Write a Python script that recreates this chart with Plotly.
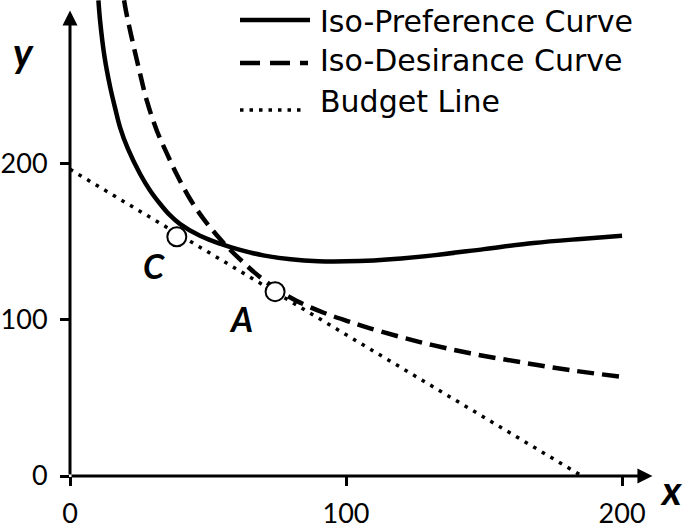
import plotly.graph_objects as go

# values
pref_x = [10.3, 10.9, 12.5, 14.5, 16.5, 18.1, 21, 25.4, 29, 32.6, 36, 39.9, 47.1, 54.3, 61.6,
          70, 80, 90, 100, 110, 120, 131.5, 150, 168, 185, 200]
pref_y = [304, 291, 268, 249, 234, 223, 209, 193, 182.5, 174, 167, 161, 153.5, 148.5, 144.5,
          141, 138.5, 137.3, 137.2, 137.8, 139, 141, 145, 148.9, 151.5, 153.5]

desire_x = [19.6, 20.3, 22.3, 25.4, 27.8, 31.4, 35, 38.6, 43.5, 48.3, 53.1, 57.5, 62.5, 67, 74.3,
            82, 91.7, 100.2, 108.7, 126.8, 145, 163, 181, 199.3]
desire_y = [304, 297, 280.5, 257, 240, 221, 206.5, 193, 177, 164.5, 154, 145.5, 137, 129.8, 120,
            112, 104.5, 99.2, 94.4, 85.6, 78.4, 72.8, 67.7, 63.5]

budget_x = [0, 185.5]
budget_y = [196, 0]

point_names = ["C", "A"]
point_x = [38.7, 74.3]
point_y = [152.9, 117.8]

tick_vals = [0, 100, 200]
tick_text = ["0", "100", "200"]

legend_names = ["Iso-Preference Curve", "Iso-Desirance Curve", "Budget Line"]

W, H = 685, 530
ML, MB = 70, 54
XMAX, YMAX = 222.8, 304.2


def px(x, y):
    # pixel position -> paper coordinates
    return (x - ML) / (W - ML), (H - MB - y) / (H - MB)


fig = go.Figure()

fig.add_trace(go.Scatter(x=budget_x, y=budget_y, mode="lines",
                         line=dict(color="black", width=3.5, dash="3.5px,6.5px")))
fig.add_trace(go.Scatter(x=desire_x, y=desire_y, mode="lines",
                         line=dict(color="black", width=4.5, dash="17px,8px", shape="spline")))
fig.add_trace(go.Scatter(x=pref_x, y=pref_y, mode="lines",
                         line=dict(color="black", width=4.5, shape="spline")))
fig.add_trace(go.Scatter(x=point_x, y=point_y, mode="markers",
                         marker=dict(size=19, color="white", line=dict(color="black", width=2))))

# axes with arrow heads
fig.add_annotation(x=0, y=297.5, ax=0, ay=0, xref="x", yref="y", axref="x", ayref="y",
                   showarrow=True, arrowhead=2, arrowsize=1, arrowwidth=3, arrowcolor="black", text="")
fig.add_annotation(x=211, y=0, ax=0, ay=0, xref="x", yref="y", axref="x", ayref="y",
                   showarrow=True, arrowhead=2, arrowsize=1, arrowwidth=3, arrowcolor="black", text="")

lab_font = dict(family="Lato", size=40, color="black", weight="bold", style="italic")
for name, lx, ly in [("y", 23, 52), ("x", 671, 490)]:
    p = px(lx, ly)
    fig.add_annotation(x=p[0], y=p[1], xref="paper", yref="paper", text=name,
                       xanchor="center", yanchor="middle", showarrow=False, font=lab_font)

pt_font = dict(family="Lato", size=34, color="black", weight="bold", style="italic")
for name, lx, ly in zip(point_names, [154, 241], [265, 318]):
    p = px(lx, ly)
    fig.add_annotation(x=p[0], y=p[1], xref="paper", yref="paper", text=name,
                       xanchor="center", yanchor="middle", showarrow=False, font=pt_font)

# hand drawn legend
leg_font = dict(family="DejaVu Sans", size=30, color="black")
rows = [(22, 20, 310, "solid", 4.5), (60, 63, 308, "20px,10px", 4.5), (101, 110, 305, "3.5px,6px", 3.5)]
for name, (ty, ly, x1, dash, lw) in zip(legend_names, rows):
    p0 = px(240, ly)
    p1 = px(x1, ly)
    fig.add_shape(type="line", xref="paper", yref="paper", x0=p0[0], y0=p0[1], x1=p1[0], y1=p1[1],
                  line=dict(color="black", width=lw, dash=dash))
    pt = px(318, ty)
    fig.add_annotation(x=pt[0], y=pt[1], xref="paper", yref="paper", text=name, showarrow=False,
                       xanchor="left", yanchor="middle", font=leg_font)

axis_common = dict(showgrid=False, zeroline=False, showline=False, ticks="outside", ticklen=9,
                   tickwidth=3, tickcolor="black", tickvals=tick_vals, ticktext=tick_text,
                   automargin=False, tickfont=dict(family="Lato", size=27, color="black"))

fig.update_layout(
    width=W, height=H,
    margin=dict(l=ML, r=0, t=0, b=MB),
    plot_bgcolor="white", paper_bgcolor="white",
    showlegend=False,
    xaxis=dict(range=[0, XMAX], ticklabelstandoff=5, **axis_common),
    yaxis=dict(range=[0, YMAX], ticklabelstandoff=7, **axis_common),
)

# the page's default body margin would push the chart 8px down and right
fig.write_html("out.html", config={"displayModeBar": False},
               post_script="document.body.style.margin='0';")
